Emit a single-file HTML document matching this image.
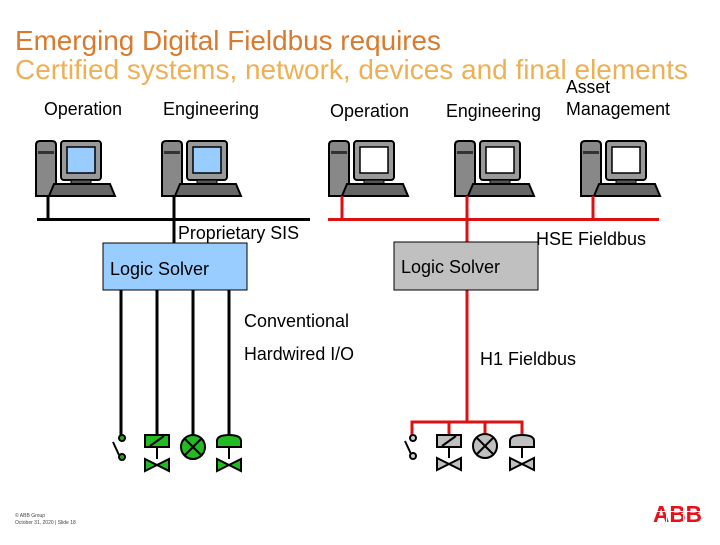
<!DOCTYPE html>
<html><head><meta charset="utf-8"><style>
body{margin:0;width:720px;height:540px;overflow:hidden;background:#fff;font-family:"Liberation Sans",sans-serif;}
</style></head><body>
<svg width="720" height="540" viewBox="0 0 720 540" xmlns="http://www.w3.org/2000/svg" font-family="Liberation Sans, sans-serif">
<defs>
<g id="pc">
<path d="M0,4 Q0,0 4,0 L16,0 Q20,0 20,4 L20,55 L0,55 Z" fill="#888" stroke="#000" stroke-width="2"/>
<rect x="2" y="10" width="16" height="3" fill="#333"/>
<rect x="25" y="0" width="40" height="39" rx="3" fill="#999" stroke="#000" stroke-width="2"/>
<rect x="31" y="6" width="28" height="26" fill="currentColor" stroke="#000" stroke-width="1.5"/>
<rect x="35" y="39" width="20" height="5" fill="#555" stroke="#000"/>
<path d="M18,43 L74,43 L79,55 L13,55 Z" fill="#666" stroke="#000" stroke-width="2"/>
</g>
<g id="valve"><path d="M0,0 L24,12 L24,0 L0,12 Z" stroke="#000" stroke-width="2" stroke-linejoin="miter"/></g>
</defs>
<text x="15" y="50" font-size="28" fill="#d97a2e" textLength="426" lengthAdjust="spacingAndGlyphs">Emerging Digital Fieldbus requires</text>
<text x="15" y="79" font-size="28" fill="#eeb055" textLength="673" lengthAdjust="spacingAndGlyphs">Certified systems, network, devices and final elements</text>
<g font-size="18" fill="#000">
<text x="44" y="115" textLength="78" lengthAdjust="spacingAndGlyphs">Operation</text>
<text x="163" y="115" textLength="96" lengthAdjust="spacingAndGlyphs">Engineering</text>
<text x="330" y="117" textLength="79" lengthAdjust="spacingAndGlyphs">Operation</text>
<text x="446" y="117" textLength="95" lengthAdjust="spacingAndGlyphs">Engineering</text>
<text x="566" y="93" textLength="44" lengthAdjust="spacingAndGlyphs">Asset</text>
<text x="566" y="115" textLength="104" lengthAdjust="spacingAndGlyphs">Management</text>
<text x="178" y="239" textLength="121" lengthAdjust="spacingAndGlyphs">Proprietary SIS</text>
<text x="536" y="245" textLength="110" lengthAdjust="spacingAndGlyphs">HSE Fieldbus</text>
<text x="244" y="327" textLength="105" lengthAdjust="spacingAndGlyphs">Conventional</text>
<text x="244" y="360" textLength="110" lengthAdjust="spacingAndGlyphs">Hardwired I/O</text>
<text x="480" y="365" textLength="96" lengthAdjust="spacingAndGlyphs">H1 Fieldbus</text>
</g>
<use href="#pc" x="36" y="141" color="#99ccff"/>
<use href="#pc" x="162" y="141" color="#99ccff"/>
<use href="#pc" x="329" y="141" color="#fff"/>
<use href="#pc" x="455" y="141" color="#fff"/>
<use href="#pc" x="581" y="141" color="#fff"/>
<g stroke="#000" stroke-width="3" fill="none">
<line x1="37" y1="219.5" x2="310" y2="219.5"/>
<line x1="48" y1="196" x2="48" y2="219"/>
<line x1="174" y1="196" x2="174" y2="244"/>
<line x1="121" y1="290" x2="121" y2="437"/>
<line x1="157" y1="290" x2="157" y2="436"/>
<line x1="193" y1="290" x2="193" y2="436"/>
<line x1="229" y1="290" x2="229" y2="436"/>
</g>
<g stroke="#dd1111" stroke-width="3" fill="none">
<line x1="328" y1="219.5" x2="659" y2="219.5"/>
<line x1="342" y1="196" x2="342" y2="219"/>
<line x1="467" y1="196" x2="467" y2="243"/>
<line x1="593" y1="196" x2="593" y2="219"/>
<line x1="467" y1="290" x2="467" y2="422"/>
<path d="M412,437 L412,422 L522,422 L522,436 M449,422 L449,436 M485,422 L485,436"/>
</g>
<rect x="103" y="243" width="144" height="47" fill="#99ccff" stroke="#000"/>
<text x="110" y="275" font-size="18" textLength="99" lengthAdjust="spacingAndGlyphs">Logic Solver</text>
<rect x="394" y="242" width="144" height="48" fill="#c0c0c0" stroke="#000"/>
<text x="401" y="273" font-size="18" textLength="99" lengthAdjust="spacingAndGlyphs">Logic Solver</text>
<g stroke="#000" stroke-width="2">
<circle cx="122" cy="438" r="3" fill="#22aa22"/>
<circle cx="122" cy="457" r="3" fill="#22aa22"/>
<line x1="113" y1="442" x2="119" y2="455"/>
<rect x="145" y="435" width="24" height="12" fill="#22bb22"/>
<line x1="150" y1="446" x2="164" y2="436"/>
<line x1="157" y1="447" x2="157" y2="459"/>
<use href="#valve" x="145" y="459" fill="#22bb22"/>
<circle cx="193" cy="447" r="12" fill="#22bb22"/>
<line x1="185" y1="439" x2="201" y2="455"/><line x1="201" y1="439" x2="185" y2="455"/>
<path d="M217,447 L217,441 Q217,435 229,435 Q241,435 241,441 L241,447 Z" fill="#22bb22"/>
<line x1="229" y1="447" x2="229" y2="459"/>
<use href="#valve" x="217" y="459" fill="#22bb22"/>
</g>
<g stroke="#000" stroke-width="2">
<circle cx="413" cy="438" r="3" fill="#ccc"/>
<circle cx="413" cy="456" r="3" fill="#ccc"/>
<line x1="405" y1="441" x2="411" y2="454"/>
<rect x="437" y="435" width="24" height="12" fill="#c0c0c0"/>
<line x1="442" y1="446" x2="456" y2="436"/>
<line x1="449" y1="447" x2="449" y2="458"/>
<use href="#valve" x="437" y="458" fill="#c0c0c0"/>
<circle cx="485" cy="446" r="12" fill="#c0c0c0"/>
<line x1="477" y1="438" x2="493" y2="454"/><line x1="493" y1="438" x2="477" y2="454"/>
<path d="M510,447 L510,441 Q510,435 522,435 Q534,435 534,441 L534,447 Z" fill="#c0c0c0"/>
<line x1="522" y1="447" x2="522" y2="458"/>
<use href="#valve" x="510" y="458" fill="#c0c0c0"/>
</g>
<text x="15" y="517" font-size="5" fill="#444">© ABB Group</text>
<text x="15" y="524" font-size="5" fill="#444">October 31, 2020 | Slide 18</text>
<text x="653" y="522" font-size="23" font-weight="bold" fill="#e8101a" textLength="49" lengthAdjust="spacingAndGlyphs">ABB</text>
<g stroke="#fff" stroke-width="1"><line x1="650" y1="511.5" x2="705" y2="511.5"/><line x1="666.5" y1="504" x2="666.5" y2="523"/><line x1="683.5" y1="504" x2="683.5" y2="523"/></g>
</svg>
</body></html>
